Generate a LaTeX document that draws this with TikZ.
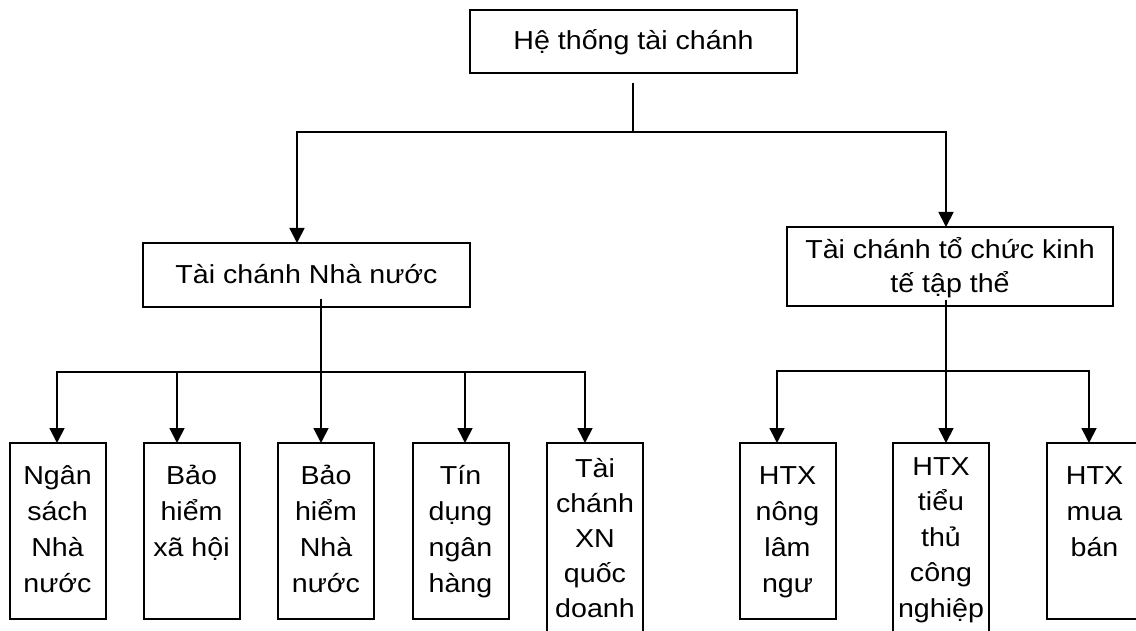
\documentclass[tikz,border=0pt]{standalone}
\usepackage{fontspec}
\setmainfont{Liberation Sans}[FakeStretch=1.1]
\usetikzlibrary{arrows.meta}
% #1 width, #2 height, #3 first baseline from top, #4 line spacing, #5 text
\newcommand\bxt[5]{\parbox[c][#2pt][t]{#1pt}{\centering\fontsize{26}{#4}\selectfont\rule{0pt}{#3pt}#5\par}}
\begin{document}
\begin{tikzpicture}[x=1pt,y=-1pt,
  box/.style={draw, line width=2pt, inner sep=0pt, outer sep=0pt},
  conn/.style={line width=1.8pt, line join=miter},
  arr/.style={conn, -{Triangle[width=15pt,length=15pt]}}]
\useasboundingbox (0,0) rectangle (1136,631);
\clip (0,0) rectangle (1136,631);
% level 0
\node[box] (top) at (633.5,41.5) {\bxt{327}{63}{40}{36}{Hệ thống tài chánh}};
% level 1
\node[box] (tcnn) at (306.5,275) {\bxt{327}{64}{41}{36}{Tài chánh Nhà nước}};
\node[box] (tckt) at (950,266.5) {\bxt{326}{79}{32}{34}{Tài chánh tổ chức kinh\\tế tập thể}};
% level 2 left
\node[box] (b1) at (57.5,531) {\bxt{96}{176}{41}{36}{Ngân\\sách\\Nhà\\nước}};
\node[box] (b2) at (191.5,531) {\bxt{96}{176}{41}{36}{Bảo\\hiểm\\xã hội}};
\node[box] (b3) at (326,531) {\bxt{96}{176}{41}{36}{Bảo\\hiểm\\Nhà\\nước}};
\node[box] (b4) at (460.5,531) {\bxt{96}{176}{41}{36}{Tín\\dụng\\ngân\\hàng}};
\node[box] (b5) at (595,543) {\bxt{96}{200}{34}{35}{Tài\\chánh\\XN\\quốc\\doanh}};
% level 2 right
\node[box] (hA) at (787.5,531) {\bxt{96}{176}{41}{36}{HTX\\nông\\lâm\\ngư}};
\node[box] (hB) at (941,543) {\bxt{96}{200}{32}{35.5}{HTX\\tiểu\\thủ\\công\\nghiệp}};
\node[box] (hC) at (1094.5,531) {\bxt{96}{176}{41}{36}{HTX\\mua\\bán}};
% connectors level 0 -> 1
\coordinate (j0) at (633,132);
\draw[conn] ([xshift=-0.5pt,yshift=-10pt]top.south) -- (j0);
\draw[arr] (j0) -| ([xshift=-9.5pt]tcnn.north);
\draw[arr] (j0) -| ([xshift=-4pt]tckt.north);
% connectors left group
\coordinate (bL) at (321,372);
\draw[conn] ([xshift=14.5pt,yshift=8pt]tcnn.south) -- (bL);
\draw[arr] (bL) -| ([xshift=-0.5pt]b1.north);
\draw[arr] (bL) -| ([xshift=-14.5pt]b2.north);
\draw[arr] (bL) -- ([xshift=-5pt]b3.north);
\draw[arr] (bL) -| ([xshift=4.5pt]b4.north);
\draw[arr] (bL) -| ([xshift=-10pt]b5.north);
% connectors right group
\coordinate (bR) at (946,371);
\draw[conn] ([xshift=-4pt,yshift=6pt]tckt.south) -- (bR);
\draw[arr] (bR) -| ([xshift=-10.5pt]hA.north);
\draw[arr] (bR) -- ([xshift=5pt]hB.north);
\draw[arr] (bR) -| ([xshift=-5.5pt]hC.north);
\end{tikzpicture}
\end{document}
